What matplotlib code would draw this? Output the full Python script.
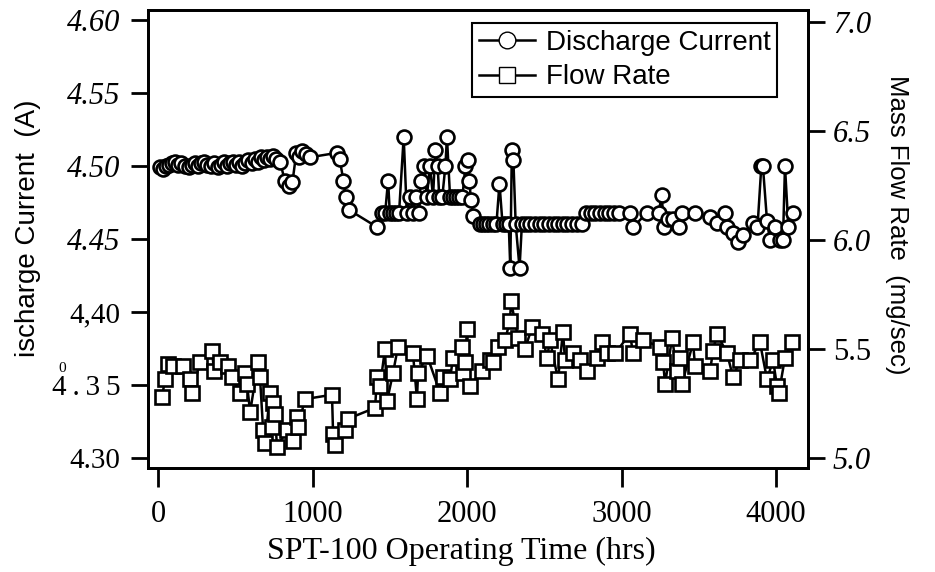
import matplotlib
matplotlib.use('Agg')
import matplotlib.pyplot as plt
from matplotlib.lines import Line2D

# discharge current (A) vs operating time (hrs)
current_t = [10, 30, 50, 70, 90, 110, 130, 150, 175, 200, 220, 240, 260, 280,
             300, 320, 345, 365, 385, 405, 425, 445, 465, 485, 505, 525, 545,
             565, 585, 605, 625, 645, 665, 685, 705, 725, 745, 765, 790,
             820, 845, 870, 895, 915, 935, 960, 985, 1160, 1175,
             1200, 1215, 1235, 1420, 1450, 1470, 1489, 1500, 1520, 1540,
             1560, 1590, 1610, 1630, 1650, 1670, 1690, 1700, 1720, 1740,
             1760, 1780, 1795, 1810, 1820, 1840, 1860, 1870, 1890, 1910,
             1930, 1950, 1970, 1990, 2005, 2015, 2025, 2040,
             2085, 2105, 2125, 2145, 2165, 2190, 2210, 2230, 2250, 2270,
             2280, 2290, 2300, 2315, 2340, 2355, 2380, 2410, 2440, 2470,
             2500, 2530, 2560, 2590, 2620, 2650, 2680, 2710, 2745,
             2770, 2800, 2830, 2860, 2890, 2920, 2950, 2985,
             3055, 3074, 3165, 3240, 3260, 3275, 3300, 3333, 3370, 3392,
             3476, 3573, 3618, 3670, 3683, 3722, 3754, 3786, 3851, 3880,
             3905, 3915, 3942, 3961, 3994, 4026, 4045, 4058, 4080, 4110]
current_a = [4.499, 4.498, 4.500, 4.501, 4.502, 4.503, 4.501, 4.502, 4.500,
             4.499, 4.501, 4.502, 4.500, 4.502, 4.503, 4.501, 4.500, 4.502,
             4.499, 4.501, 4.503, 4.500, 4.502, 4.503, 4.501, 4.503, 4.500,
             4.502, 4.504, 4.502, 4.505, 4.503, 4.506, 4.504, 4.506, 4.505,
             4.507, 4.505, 4.503,
             4.490, 4.486, 4.489, 4.509, 4.506, 4.510, 4.508, 4.506, 4.509, 4.505,
             4.490, 4.479, 4.470, 4.458, 4.468, 4.468, 4.490, 4.468, 4.468, 4.468,
             4.468, 4.520, 4.468, 4.479, 4.468, 4.479, 4.468, 4.490, 4.500, 4.479,
             4.500, 4.479, 4.511, 4.500, 4.479, 4.479, 4.500, 4.520, 4.479, 4.479,
             4.479, 4.479, 4.479, 4.500, 4.504, 4.490, 4.477, 4.466,
             4.460, 4.460, 4.460, 4.460, 4.460, 4.460, 4.488, 4.460, 4.460, 4.460,
             4.430, 4.511, 4.504, 4.460, 4.430, 4.460, 4.460, 4.460, 4.460, 4.460,
             4.460, 4.460, 4.460, 4.460, 4.460, 4.460, 4.460, 4.460, 4.460,
             4.468, 4.468, 4.468, 4.468, 4.468, 4.468, 4.468, 4.468,
             4.468, 4.458, 4.468, 4.468, 4.480, 4.458, 4.464, 4.464, 4.458, 4.468,
             4.468, 4.465, 4.461, 4.468, 4.458, 4.454, 4.448, 4.453, 4.461, 4.458,
             4.500, 4.500, 4.462, 4.449, 4.458, 4.449, 4.449, 4.500, 4.458, 4.468]

# mass flow rate (mg/sec) vs operating time (hrs)
flow_t = [26, 45, 65, 97, 162, 207, 220, 272, 350, 362, 401, 453, 479, 531,
          563, 576, 596, 647, 660, 680, 693, 725, 738, 744, 757, 770, 835,
          874, 900, 906, 951, 1126, 1133, 1146, 1210, 1230, 1405, 1417, 1437,
          1469, 1482, 1521, 1553, 1650, 1676, 1683, 1741, 1825, 1845, 1890,
          1909, 1968, 1974, 1987, 2000, 2019, 2097, 2149, 2168, 2201, 2246,
          2278, 2285, 2330, 2375, 2421, 2485, 2518, 2537, 2589, 2621, 2634,
          2686, 2731, 2777, 2841, 2874, 2906, 2958, 3055, 3074, 3139, 3249,
          3269, 3282, 3327, 3359, 3379, 3392, 3463, 3476, 3573, 3592, 3618,
          3683, 3722, 3767, 3832, 3896, 3942, 3981, 4006, 4019, 4058, 4104]
flow_rate = [5.28, 5.36, 5.43, 5.42, 5.42, 5.36, 5.30, 5.44, 5.49, 5.40, 5.44,
             5.42, 5.37, 5.30, 5.39, 5.34, 5.21, 5.44, 5.37, 5.13, 5.07, 5.30,
             5.14, 5.25, 5.20, 5.05, 5.13, 5.08, 5.19, 5.14, 5.27, 5.29, 5.11,
             5.06, 5.13, 5.18, 5.23, 5.37, 5.33, 5.50, 5.26, 5.39, 5.51, 5.48,
             5.27, 5.39, 5.47, 5.30, 5.37, 5.36, 5.46, 5.51, 5.39, 5.44, 5.59,
             5.33, 5.40, 5.45, 5.44, 5.51, 5.54, 5.63, 5.72, 5.55, 5.50, 5.60,
             5.57, 5.46, 5.54, 5.36, 5.58, 5.45, 5.48, 5.45, 5.40, 5.46, 5.53,
             5.48, 5.48, 5.57, 5.48, 5.54, 5.51, 5.44, 5.34, 5.55, 5.40, 5.46,
             5.34, 5.53, 5.42, 5.40, 5.49, 5.57, 5.48, 5.37, 5.45, 5.45, 5.53,
             5.36, 5.45, 5.33, 5.30, 5.46, 5.53]

left_ticks = [4.30, 4.35, 4.40, 4.45, 4.50, 4.55, 4.60]
left_labels = ['4.30', '4\u2009.\u20093\u20095', '4,40', '4.45', '4.50', '4.55', '4.60']
left_italic = [False, False, False, True, True, True, True]
right_ticks = [5.0, 5.5, 6.0, 6.5, 7.0]
right_labels = ['5.0', '5.5', '6.0', '6.5', '7.0']
right_italic = [True, False, True, True, True]
x_ticks = [0, 1000, 2000, 3000, 4000]

serif = ['Liberation Serif', 'DejaVu Serif']
sans = ['Liberation Sans', 'DejaVu Sans']

fig = plt.figure(figsize=(9.35, 5.72), dpi=100)
ax = fig.add_axes([148 / 935, 1 - 468 / 572, 660 / 935, 458 / 572])
ax2 = ax.twinx()

ax.plot(current_t, current_a, color='black', lw=1.8, marker='o', ms=10,
        mfc='white', mec='black', mew=1.9)
ax2.plot(flow_t, flow_rate, color='black', lw=1.8, marker='s', ms=10.5,
         mfc='white', mec='black', mew=1.9)

ax.set_xlim(-65, 4207)
ax.set_ylim(4.2932, 4.6068)
ax2.set_ylim(4.954, 7.055)

ax.set_xticks(x_ticks)
ax.set_xticklabels([str(v) for v in x_ticks], fontfamily=serif, fontsize=22)
ax.set_yticks(left_ticks)
ax.set_yticklabels(left_labels, fontfamily=serif, fontsize=22)
for lbl, it in zip(ax.get_yticklabels(), left_italic):
    lbl.set_fontstyle('italic' if it else 'normal')
    if not it:
        lbl.set_fontsize(21)
ax2.set_yticks(right_ticks)
ax2.set_yticklabels(right_labels, fontfamily=serif, fontsize=22)
for lbl, it in zip(ax2.get_yticklabels(), right_italic):
    lbl.set_fontstyle('italic' if it else 'normal')

ax.tick_params(axis='x', direction='out', length=14, width=2, pad=9)
ax.tick_params(axis='y', direction='out', length=12, width=2, pad=8)
ax2.tick_params(axis='y', direction='out', length=12, width=2, pad=6)
for a in (ax, ax2):
    for sp in a.spines.values():
        sp.set_linewidth(2)

# axis titles
fig.text(461 / 935, 1 - 551 / 572, 'SPT-100 Operating Time (hrs)', ha='center',
         va='center', fontfamily=serif, fontsize=23)
fig.text(28 / 935, 1 - 228 / 572, 'ischarge Current  (A)', rotation=90,
         ha='center', va='center', fontfamily=sans, fontsize=20)
fig.text(62 / 935, 1 - 368 / 572, '0', ha='center', va='center',
         fontfamily=serif, fontsize=11)
fig.text(897 / 935, 1 - 225 / 572, 'Mass Flow Rate  (mg/sec)', rotation=-90,
         ha='center', va='center', fontfamily=sans, fontsize=18.5)

handles = [
    Line2D([], [], color='black', lw=1.8, marker='o', ms=12, mfc='white', mec='black'),
    Line2D([], [], color='black', lw=1.8, marker='s', ms=12, mfc='white', mec='black'),
]
leg = ax2.legend(handles, ['Discharge Current', 'Flow Rate'], loc='upper left',
                 bbox_to_anchor=((472 - 148) / 660, (468 - 23) / 458),
                 prop={'family': sans, 'size': 20}, frameon=True, fancybox=False,
                 framealpha=1, edgecolor='black', handlelength=2.0,
                 borderpad=0.25, labelspacing=0.3, handletextpad=0.4,
                 borderaxespad=0)
leg.get_frame().set_linewidth(1.5)

fig.savefig('out.png', dpi=100)
